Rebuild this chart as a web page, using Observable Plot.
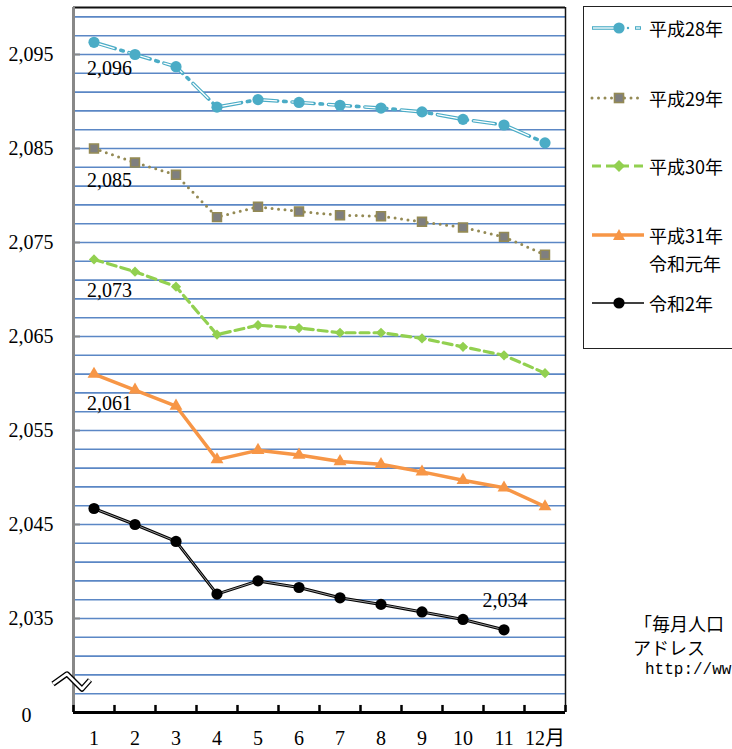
<!DOCTYPE html>
<html><head><meta charset="utf-8">
<script src="https://cdn.jsdelivr.net/npm/d3@7"></script>
<script src="https://cdn.jsdelivr.net/npm/@observablehq/plot@0.6"></script>
<style>
html,body{margin:0;padding:0;background:#fff;overflow:hidden;width:732px;height:749px;}
#wrap{position:relative;width:732px;height:749px;overflow:hidden;}
#wrap svg.plot{position:absolute;left:0;top:0;}
.legend{position:absolute;left:583px;top:6px;width:170px;height:343px;border:1.3px solid #222;background:#fff;box-sizing:border-box;}
.li{position:absolute;left:0;height:24px;}
.li svg{position:absolute;left:6px;top:0;}
.li span{position:absolute;left:65px;top:0;font-family:"Noto Sans CJK JP",sans-serif;font-size:18px;line-height:24px;white-space:nowrap;color:#000;}
.note{position:absolute;font-family:"Noto Sans CJK JP",sans-serif;font-size:18px;line-height:20px;white-space:nowrap;color:#000;}
</style></head><body><div id="wrap"></div>
<script>
// ---- data ----
const months = [1,2,3,4,5,6,7,8,9,10,11,12];
const monthLabels = ["1","2","3","4","5","6","7","8","9","10","11","12月"];
const seriesNames = ["平成28年","平成29年","平成30年","平成31年","令和2年"];
const seriesNames2 = ["","","","令和元年",""];
const h28 = [2096.3, 2095.0, 2093.7, 2089.4, 2090.2, 2089.9, 2089.6, 2089.3, 2088.9, 2088.1, 2087.5, 2085.6];
const h29 = [2085.0, 2083.5, 2082.2, 2077.7, 2078.8, 2078.3, 2077.9, 2077.8, 2077.2, 2076.6, 2075.6, 2073.7];
const h30 = [2073.2, 2071.9, 2070.3, 2065.2, 2066.2, 2065.9, 2065.4, 2065.4, 2064.8, 2063.9, 2063.0, 2061.1];
const h31 = [2061.0, 2059.3, 2057.6, 2051.9, 2052.9, 2052.4, 2051.7, 2051.4, 2050.6, 2049.7, 2048.9, 2046.9];
const r2  = [2046.7, 2045.0, 2043.2, 2037.6, 2039.0, 2038.3, 2037.2, 2036.5, 2035.7, 2034.9, 2033.8];
const yTicks = [2025, 2035, 2045, 2055, 2065, 2075, 2085, 2095];
const yTickLabels = ["0", "2,035", "2,045", "2,055", "2,065", "2,075", "2,085", "2,095"];
const yMin = 2025, yMax = 2100, gridStep = 2;
const dataLabels = [
  {series: 0, month: 1, text: "2,096"},
  {series: 1, month: 1, text: "2,085"},
  {series: 2, month: 1, text: "2,073"},
  {series: 3, month: 1, text: "2,061"},
  {series: 4, month: 11, text: "2,034"}
];
const noteLines = ["「毎月人口", "アドレス", "http://ww"];

// ---- build ----
const allSeries = [h28, h29, h30, h31, r2];
const rows = s => allSeries[s].map((v, i) => ({month: months[i], value: v}));
const grid = d3.range(yMin + gridStep, yMax, gridStep);
const bounds = d3.range(0.5, months.length + 1, 1);
const labelRows = dataLabels.map(d => ({month: d.month, value: allSeries[d.series][d.month - 1], text: d.text, series: d.series}));
const serif = "Liberation Serif, DejaVu Serif, Noto Sans CJK JP, serif";
const C = {h28: "#4bacc6", h29: "#948a54", h30: "#92d050", h31: "#f79646", r2: "#000"};
const labelDy = [26, 32, 31, 29, -29];

const plot = Plot.plot({
  width: 732, height: 749,
  marginLeft: 73, marginRight: 167, marginTop: 7, marginBottom: 37,
  x: {domain: [0.5, 12.5]},
  y: {domain: [yMin, yMax]},
  style: {fontFamily: serif, fontSize: "20px", color: "#000", background: "#fff"},
  marks: [
    Plot.ruleY(grid, {stroke: "#5b87c5", strokeWidth: 1.6}),
    Plot.ruleY([yMax], {stroke: "#111", strokeWidth: 2}),
    Plot.ruleX([12.5], {stroke: "#111", strokeWidth: 1.5}),
    Plot.ruleX([0.5], {stroke: "#888", strokeWidth: 3}),
    Plot.ruleY(yTicks.slice(1), {x1: 0.5, x2: 0.67, stroke: "#888", strokeWidth: 2}),
    Plot.ruleY([yMin], {stroke: "#000", strokeWidth: 3}),
    Plot.ruleX(bounds, {y1: yMin, y2: yMin + 0.75, stroke: "#000", strokeWidth: 2.5}),
    Plot.axisY(yTicks.slice(1), {tickSize: 0, tickPadding: 20, tickFormat: d => yTickLabels[yTicks.indexOf(d)], fontSize: 20, fontFamily: serif, label: null}),
    Plot.text([yTicks[0]], {x: 0.5, y: d => d, text: d => yTickLabels[yTicks.indexOf(d)], dx: -47, dy: 3, fontSize: 20, fontFamily: serif, fill: "#000"}),
    Plot.axisX(months, {tickSize: 0, tickPadding: 18, tickFormat: d => monthLabels[d - 1], fontSize: 20, fontFamily: serif, label: null}),
    // H28: double dash-dot
    Plot.line(rows(0), {x: "month", y: "value", stroke: C.h28, strokeWidth: 3.6, strokeDasharray: "22,6,2.5,6"}),
    Plot.line(rows(0), {x: "month", y: "value", stroke: "#fff", strokeWidth: 1.3, strokeDasharray: "0,1,20,15.5"}),
    // H29 dotted
    Plot.line(rows(1), {x: "month", y: "value", stroke: C.h29, strokeWidth: 3, strokeDasharray: "0,6.5", strokeLinecap: "round"}),
    // H30 dashed
    Plot.line(rows(2), {x: "month", y: "value", stroke: C.h30, strokeWidth: 3.2, strokeDasharray: "9,5"}),
    // H31 solid
    Plot.line(rows(3), {x: "month", y: "value", stroke: C.h31, strokeWidth: 3.5}),
    // R2 double
    Plot.line(rows(4), {x: "month", y: "value", stroke: "#000", strokeWidth: 3}),
    Plot.line(rows(4), {x: "month", y: "value", stroke: "#999", strokeWidth: 1}),
    Plot.dot(rows(0), {x: "month", y: "value", r: 5.6, fill: C.h28}),
    Plot.dot(rows(1), {x: "month", y: "value", r: 5, symbol: "square", fill: "#7f7f7f", stroke: C.h29, strokeWidth: 1.6}),
    Plot.dot(rows(2), {x: "month", y: "value", r: 4.6, symbol: "diamond2", fill: C.h30}),
    Plot.dot(rows(3), {x: "month", y: "value", r: 4.8, symbol: "triangle", fill: C.h31}),
    Plot.dot(rows(4), {x: "month", y: "value", r: 5.6, fill: "#000"}),
    ...labelRows.map(d => Plot.text([d], {x: "month", y: "value", text: "text", fontSize: 20, fontFamily: serif, fill: "#000",
      textAnchor: d.series === 4 ? "middle" : "start",
      dx: d.series === 4 ? 1 : -7,
      dy: labelDy[d.series]}))
  ]
});
plot.classList.add("plot");
const wrap = document.getElementById("wrap");
wrap.appendChild(plot);

// axis break symbol
const sx = plot.scale("x"), sy = plot.scale("y");
const bx = sx.apply(0.5), by = sy.apply(yMin + 3.3);
const brk = d3.select(plot).append("g").attr("transform", `translate(${bx},${by})`);
const bp = "M-20,3 L-6,-7 L9,8 L17,-1";
brk.append("path").attr("d", bp).attr("fill", "none").attr("stroke", "#000").attr("stroke-width", 5.5).attr("stroke-linejoin", "round");
brk.append("path").attr("d", bp).attr("fill", "none").attr("stroke", "#fff").attr("stroke-width", 2.8).attr("stroke-linejoin", "round");

// legend
const legend = d3.select(wrap).append("div").attr("class", "legend");
const swatches = [
  `<line x1="2" y1="12" x2="26" y2="12" stroke="${C.h28}" stroke-width="3.6"/><line x1="3" y1="12" x2="25" y2="12" stroke="#fff" stroke-width="1.3"/><circle cx="29" cy="12" r="5.6" fill="${C.h28}"/><circle cx="38" cy="12" r="1.2" fill="${C.h28}"/><line x1="45" y1="12" x2="51" y2="12" stroke="${C.h28}" stroke-width="3.6"/><line x1="46" y1="12" x2="50" y2="12" stroke="#fff" stroke-width="1.3"/>`,
  `<line x1="2" y1="12" x2="54" y2="12" stroke="${C.h29}" stroke-width="3" stroke-dasharray="0,6.5" stroke-linecap="round"/><rect x="24.5" y="7.5" width="9" height="9" fill="#7f7f7f" stroke="${C.h29}" stroke-width="1.6"/>`,
  `<line x1="2" y1="12" x2="54" y2="12" stroke="${C.h30}" stroke-width="3.2" stroke-dasharray="9,5"/><path d="M29,6 L35,12 L29,18 L23,12Z" fill="${C.h30}"/>`,
  `<line x1="2" y1="12" x2="54" y2="12" stroke="${C.h31}" stroke-width="3.5"/><path d="M29,6 L35,17 L23,17Z" fill="${C.h31}"/>`,
  `<line x1="2" y1="12" x2="54" y2="12" stroke="#000" stroke-width="1.6"/><circle cx="29" cy="12" r="5.6" fill="#000"/>`
];
const legTops = [9, 79, 147, 216, 284];
seriesNames.forEach((n, i) => {
  const it = legend.append("div").attr("class", "li").style("top", legTops[i] + "px");
  it.append("svg").attr("width", 56).attr("height", 24).html(swatches[i]);
  it.append("span").text(n);
  if (seriesNames2[i]) it.append("span").style("top", "28px").text(seriesNames2[i]);
});

// note text
const noteTops = [613, 637, 660];
const noteLefts = [634, 633, 645];
noteLines.forEach((t, i) => {
  d3.select(wrap).append("div").attr("class", "note")
    .style("top", noteTops[i] + "px").style("left", noteLefts[i] + "px")
    .style("font-family", i === 2 ? "Liberation Mono, monospace" : null)
    .style("font-size", i === 2 ? "16px" : null)
    .text(t);
});
</script>
</body></html>
